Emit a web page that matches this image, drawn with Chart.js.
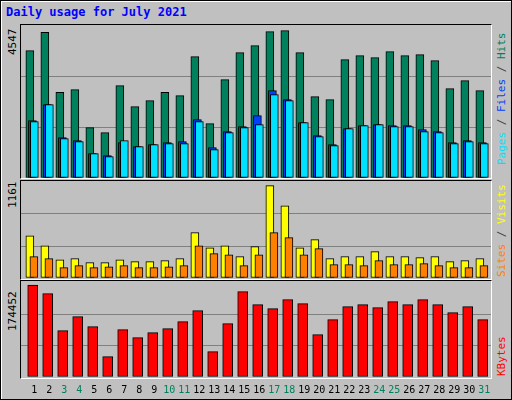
<!DOCTYPE html>
<html><head><meta charset="utf-8">
<script src="https://cdn.jsdelivr.net/npm/chart.js@4"></script>
<style>
body{margin:0;background:#fff}
#box{position:absolute;left:0;top:0;width:510px;height:398px;background:#c0c0c0;border:1px solid #000;overflow:hidden}
#inner{position:absolute;left:0;top:0;width:509px;height:397px;border-top:1px solid #fff;border-left:1px solid #fff}
.frame{position:absolute;left:19px;width:470px;border-top:1px solid #000;border-left:1px solid #000;border-right:1px solid #fff;border-bottom:1px solid #fff}
canvas{position:absolute}
.t{position:absolute;font-family:"DejaVu Sans Mono",monospace;font-size:11px;white-space:nowrap;line-height:13px}
.rot{transform-origin:0 0;transform:rotate(-90deg)}
</style></head><body>
<div id="box"><div id="inner"></div>
<div class="t" style="left:5px;top:5px;color:#0000ff;font-weight:bold;font-size:12px">Daily usage for July 2021</div>
<div class="frame" style="top:23px;height:153px"></div>
<div class="frame" style="top:179px;height:98px"></div>
<div class="frame" style="top:279px;height:97px"></div>
<div class="t rot" style="left:5px;top:54px">4547</div>
<div class="t rot" style="left:5px;top:207px">1161</div>
<div class="t rot" style="left:5px;top:330px">174452</div>
<div class="t rot" style="left:494px;top:164px"><span style="color:#00e0ff">Pages</span><span style="color:#404040"> / </span><span style="color:#0040ff">Files</span><span style="color:#404040"> / </span><span style="color:#00805c">Hits</span></div>
<div class="t rot" style="left:494px;top:276px"><span style="color:#ff8000">Sites</span><span style="color:#404040"> / </span><span style="color:#ffff00">Visits</span></div>
<div class="t rot" style="left:494px;top:375px;color:#ff0000">KBytes</div>
<canvas id="c1" style="left:20px;top:25px"></canvas>
<canvas id="c2" style="left:20px;top:181px"></canvas>
<canvas id="c3" style="left:20px;top:282px"></canvas>
</div>
<script>
const days=["1","2","3","4","5","6","7","8","9","10","11","12","13","14","15","16","17","18","19","20","21","22","23","24","25","26","27","28","29","30","31"];
const weekend=[3,4,10,11,17,18,24,25,31];
const hits=[3930,4497,2644,2727,1554,1399,2850,2202,2387,2644,2541,3745,1677,3035,3869,4085,4517,4547,3869,2511,2418,3653,3776,3714,3900,3776,3807,3622,2758,3004,2696];
const files=[1770,2264,1245,1152,751,689,1091,967,1029,1091,1122,1801,936,1430,1585,1924,2696,2418,1708,1307,1029,1523,1615,1646,1615,1615,1492,1430,1091,1152,1091];
const pages=[1739,2264,1214,1122,751,659,1152,967,1029,1060,1060,1739,875,1399,1554,1646,2572,2387,1708,1276,998,1523,1615,1646,1585,1585,1430,1399,1060,1122,1060];
const visits=[532,406,230,243,193,193,230,205,205,218,243,570,381,406,268,394,1161,909,381,482,243,268,268,331,268,268,256,268,205,218,243];
const sites=[268,243,130,155,130,142,155,130,130,142,155,406,306,293,155,293,570,507,293,369,168,168,155,218,168,168,180,155,130,130,155];
const kbytes=[174452,158500,88100,114800,95700,38700,90000,74800,84300,91900,105200,126200,48200,101400,162300,137600,130000,147100,139500,80500,109000,133800,137600,131900,143300,137600,147100,137600,122400,133800,109000];

const XMIN=0.41, XMAX=0.41+470/15;
function pts(arr,off){return arr.map((v,i)=>({x:i+1+off,y:v}));}
function ds(arr,off,color,w){return {data:pts(arr,off),backgroundColor:color,borderColor:'#000',borderWidth:1,barThickness:w,borderSkipped:false,grouped:false};}
function make(id,w,h,datasets,top,padBottom,plugins){
  const c=document.getElementById(id);c.width=w;c.height=h;c.style.width=w+'px';c.style.height=h+'px';
  return new Chart(c,{type:'bar',data:{datasets},plugins:plugins||[],options:{
    responsive:false,animation:false,devicePixelRatio:1,
    layout:{padding:{left:0,right:0,top:0,bottom:padBottom||0}},
    plugins:{legend:{display:false},tooltip:{enabled:false}},
    scales:{
      x:{type:'linear',min:XMIN,max:XMAX,display:false,offset:false},
      y:{min:0,max:top,border:{display:false},ticks:{display:false,stepSize:top/3},
         grid:{drawTicks:false,lineWidth:1,color:ctx=>(ctx.index===1||ctx.index===2)?'#808080':'rgba(0,0,0,0)'}}
    }}});
}
make('c1',470,152,[ds(pages,0.3,'#00e0ff',8),ds(files,0.17,'#0040ff',8),ds(hits,0,'#00805c',8)],4660*152/151);
make('c2',470,96,[ds(sites,0.27,'#ff8000',8),ds(visits,0,'#ffff00',8)],1195*96/95);
const labelPlugin={id:'lbl',afterDraw(ch){
  const g=ch.ctx,xs=ch.scales.x;g.save();g.font='10px "DejaVu Sans Mono", monospace';g.textAlign='center';g.textBaseline='middle';
  days.forEach((d,i)=>{g.fillStyle=weekend.includes(i+1)?'#00805c':'#000';g.fillText(d,xs.getPixelForValue(i+1.3),ch.chartArea.bottom+13);});
  g.restore();}};
make('c3',470,115,[ds(kbytes,0.19,'#ff0000',10)],177600*94/93.5,21,[labelPlugin]);
</script></body></html>
